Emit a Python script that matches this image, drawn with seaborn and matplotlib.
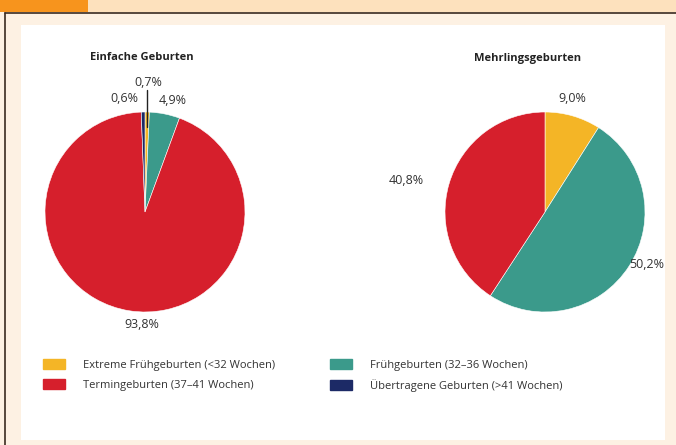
import numpy as np
import matplotlib.pyplot as plt
import matplotlib.patches as mpatches
import seaborn as sns

# ---------- Data ----------
categories = ['Extreme Frühgeburten (<32 Wochen)', 'Frühgeburten (32–36 Wochen)',
              'Termingeburten (37–41 Wochen)', 'Übertragene Geburten (>41 Wochen)']
colors = ['#f4b526', '#3b9a8b', '#d61f2c', '#1c2a66']

einfach = [0.7, 4.9, 93.8, 0.6]
mehrling = [9.0, 50.2, 40.8, 0.0]
einfach_labels = ['0,7%', '4,9%', '93,8%', '0,6%']
mehrling_labels = ['9,0%', '50,2%', '40,8%']

sns.set_theme(style='white')
plt.rcParams['font.family'] = ['Open Sans', 'DejaVu Sans']

W, H = 676, 445
fig = plt.figure(figsize=(W / 100, H / 100), dpi=100)
fig.patch.set_facecolor('#fdf1e3')


def px_axes(x0, y0, w, h):
    # pixel box (top-left origin) -> figure axes
    return fig.add_axes([x0 / W, 1 - (y0 + h) / H, w / W, h / H])


# ---------- Frame / header ----------
bg = fig.add_axes([0, 0, 1, 1])
bg.set_xlim(0, W)
bg.set_ylim(H, 0)
bg.axis('off')
bg.add_patch(mpatches.Rectangle((0, 0), W, 12, color='#fde1bd', lw=0))
bg.add_patch(mpatches.Rectangle((0, 0), 88, 12, color='#f7941d', lw=0))
bg.plot([5, W], [12.5, 12.5], color='#3a2a20', lw=1.2)
bg.plot([5, 5], [12.5, H], color='#3a2a20', lw=1.2)
bg.add_patch(mpatches.Rectangle((21, 25), 644, 415, color='white', lw=0))


def draw_pie(ax, values, cols):
    vals = [v for v in values if v > 0]
    cs = [c for v, c in zip(values, cols) if v > 0]
    ax.pie(vals, colors=cs, startangle=90, counterclock=False, radius=1,
           wedgeprops=dict(linewidth=0.4, edgecolor='white'))
    ax.set_xlim(-1, 1)
    ax.set_ylim(-1, 1)
    ax.set_aspect('equal')
    ax.axis('off')


# ---------- Left pie ----------
ax1 = px_axes(45, 112, 200, 200)
draw_pie(ax1, einfach, colors)
ax1.text(-0.03, 1.54, 'Einfache Geburten', ha='center', va='center',
         fontsize=8, fontweight='bold', color='#222222')
lab_kw = dict(ha='center', va='center', fontsize=9, color='#333333', clip_on=False)
ax1.text(0.03, 1.30, einfach_labels[0], **lab_kw)
ax1.text(0.28, 1.11, einfach_labels[1], **lab_kw)
ax1.text(-0.03, -1.13, einfach_labels[2], **lab_kw)
ax1.text(-0.21, 1.14, einfach_labels[3], **lab_kw)
ax1.plot([0.02, 0.02], [1.22, 0.85], color='#222222', lw=1, clip_on=False)

# ---------- Right pie ----------
ax2 = px_axes(445, 112, 200, 200)
draw_pie(ax2, mehrling, colors)
ax2.text(-0.17, 1.53, 'Mehrlingsgeburten', ha='center', va='center',
         fontsize=8, fontweight='bold', color='#222222')
ax2.text(0.27, 1.14, mehrling_labels[0], **lab_kw)
ax2.text(1.02, -0.52, mehrling_labels[1], **lab_kw)
ax2.text(-1.39, 0.32, mehrling_labels[2], **lab_kw)

# ---------- Legend ----------
handles = [mpatches.Patch(color=c, label=l) for c, l in zip(colors, categories)]
order = [0, 2, 1, 3]
fig.legend([handles[i] for i in order], [categories[i] for i in order],
           ncol=2, loc='upper left', bbox_to_anchor=(33 / W, 1 - 349 / H),
           frameon=False, fontsize=8, handlelength=2.0, handleheight=1.0,
           handletextpad=1.6, columnspacing=4.9, labelspacing=0.75,
           labelcolor='#333333')

fig.savefig('out.png', dpi=100, facecolor=fig.get_facecolor())
